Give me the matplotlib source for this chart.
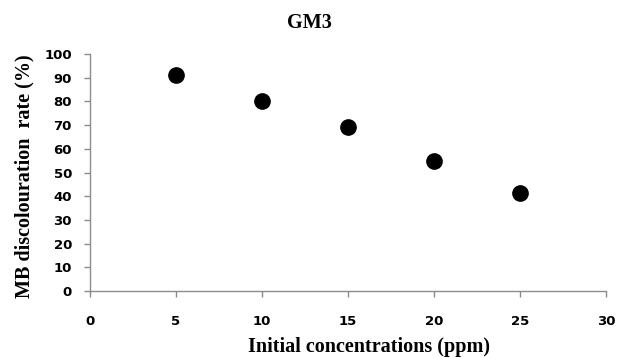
import matplotlib.pyplot as plt

# data
conc = [5, 10, 15, 20, 25]
rate = [91, 80, 69.3, 54.9, 41.5]
xticks = [0, 5, 10, 15, 20, 25, 30]
yticks = list(range(0, 101, 10))

fig = plt.figure(figsize=(6.23, 3.58), dpi=100)
ax = fig.add_axes([90/623, 1-291/358, (606-90)/623, (291-54)/358])

ax.plot(conc, rate, 'o', color='black', markersize=11, clip_on=False)

ax.set_xlim(0, 30)
ax.set_ylim(0, 100)
ax.set_xticks(xticks)
ax.set_yticks(yticks)

for s in ['top', 'right']:
    ax.spines[s].set_visible(False)
for s in ['left', 'bottom']:
    ax.spines[s].set_color('#8c8c8c')
    ax.spines[s].set_linewidth(1.0)

ax.tick_params(axis='both', direction='out', length=4, width=1, color='#8c8c8c',
               labelsize=9.5)
ax.tick_params(axis='x', pad=13)
ax.tick_params(axis='y', pad=9)
for lab in ax.get_xticklabels() + ax.get_yticklabels():
    lab.set_fontweight('bold')
    lab.set_family('DejaVu Sans')

serif = 'Liberation Serif'
fig.text(309/623, 1-23/358, 'GM3', ha='center', va='center',
         fontsize=14.5, fontweight='bold', family=serif)
fig.text(369/623, 1-347/358, 'Initial concentrations (ppm)', ha='center', va='center',
         fontsize=14.5, fontweight='bold', family=serif)
fig.text(24/623, 1-176/358, 'MB discolouration  rate (%)', ha='center', va='center',
         rotation=90, fontsize=14.5, fontweight='bold', family=serif)

fig.savefig('out.png', dpi=100)
